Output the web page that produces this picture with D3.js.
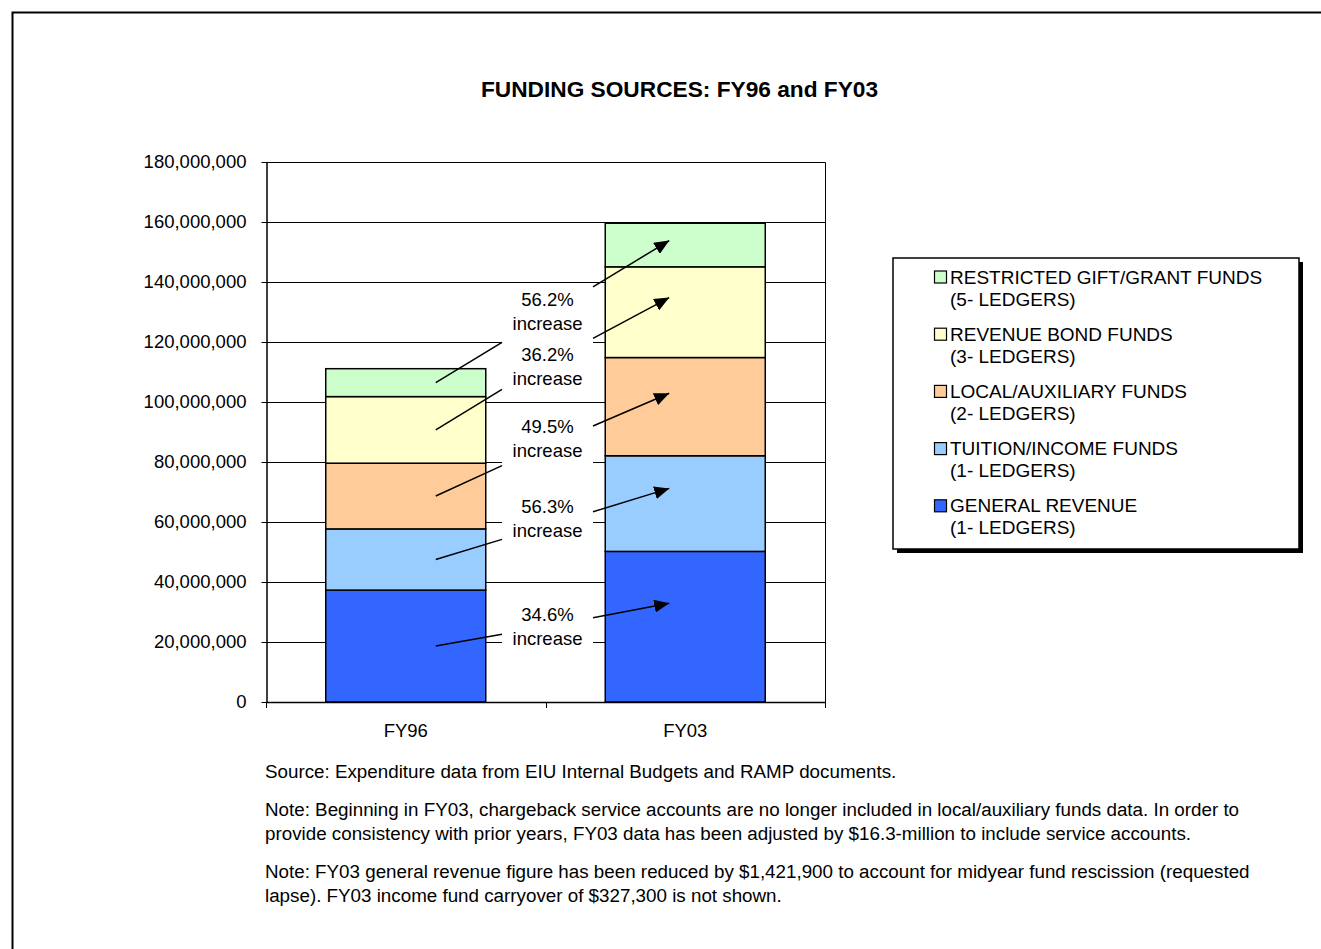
<!DOCTYPE html>
<html>
<head>
<meta charset="utf-8">
<script src="https://cdn.jsdelivr.net/npm/d3@7"></script>
<style>
  html, body { margin: 0; padding: 0; background: #fff; }
  svg { display: block; font-family: "Liberation Sans", Arial, sans-serif; }
</style>
</head>
<body>
<svg id="chart" width="1321" height="949"></svg>
<script>
// Funding sources by fiscal year (dollars)
const categories = ["FY96", "FY03"];
const generalRevenue = [37300000, 50200000];
const tuitionIncome = [20400000, 31880000];
const localAuxiliary = [21900000, 32740000];
const revenueBond = [22200000, 30240000];
const restrictedGift = [9300000, 14530000];

const seriesNames = [
  ["GENERAL REVENUE", "(1- LEDGERS)"],
  ["TUITION/INCOME FUNDS", "(1- LEDGERS)"],
  ["LOCAL/AUXILIARY FUNDS", "(2- LEDGERS)"],
  ["REVENUE BOND FUNDS", "(3- LEDGERS)"],
  ["RESTRICTED GIFT/GRANT FUNDS", "(5- LEDGERS)"]
];
const seriesValues = [generalRevenue, tuitionIncome, localAuxiliary, revenueBond, restrictedGift];
const seriesColors = ["#3366FF", "#99CCFF", "#FFCC99", "#FFFFCC", "#CCFFCC"];

const yTicks = [0, 20000000, 40000000, 60000000, 80000000, 100000000, 120000000, 140000000, 160000000, 180000000];

// Callout placement in value units (label centre, line ends, arrow tip), per series
const calloutLabelAt = [25.2e6, 61.2e6, 87.7e6, 112.0e6, 130.3e6];
const calloutLeftEnd = [22.6e6, 54.2e6, 78.8e6, 104.2e6, 119.9e6];
const calloutRightStart = [28.1e6, 63.4e6, 92.0e6, 121.2e6, 138.4e6];
const calloutTipAt = [32.9e6, 71.2e6, 102.9e6, 134.8e6, 153.8e6];

const title = "FUNDING SOURCES: FY96 and FY03";
const footnotes = [
  ["Source: Expenditure data from EIU Internal Budgets and RAMP documents."],
  ["Note: Beginning in FY03, chargeback service accounts are no longer included in local/auxiliary funds data. In order to",
   "provide consistency with prior years, FY03 data has been adjusted by $16.3-million to include service accounts."],
  ["Note: FY03 general revenue figure has been reduced by $1,421,900 to account for midyear fund rescission (requested",
   "lapse). FY03 income fund carryover of $327,300 is not shown."]
];

const svg = d3.select("#chart");
const FONT = 18.5;

// Outer frame
svg.append("rect")
  .attr("x", 12.5).attr("y", 12.5).attr("width", 1400).attr("height", 1000)
  .attr("fill", "#fff").attr("stroke", "#000").attr("stroke-width", 2);

// Title
svg.append("text")
  .attr("x", 679.5).attr("y", 89)
  .attr("text-anchor", "middle").attr("dominant-baseline", "central")
  .attr("font-weight", "bold").attr("font-size", 22.7)
  .text(title);

const plot = { left: 266, right: 825, top: 162, bottom: 702 };

const x = d3.scaleBand()
  .domain(categories)
  .range([plot.left, plot.right])
  .paddingInner(0.4275)
  .paddingOuter(0.21375);

const y = d3.scaleLinear()
  .domain([0, 180000000])
  .range([plot.bottom, plot.top]);

// Stack the series
const rows = categories.map((c, i) => {
  const r = { category: c };
  seriesValues.forEach((s, k) => { r["s" + k] = s[i]; });
  return r;
});
const keys = seriesValues.map((s, k) => "s" + k);
const stacked = d3.stack().keys(keys)(rows);

// Gridlines
svg.append("g")
  .selectAll("line")
  .data(yTicks.filter(v => v > 0))
  .join("line")
  .attr("x1", plot.left).attr("x2", plot.right)
  .attr("y1", d => Math.round(y(d)) + 0.5).attr("y2", d => Math.round(y(d)) + 0.5)
  .attr("stroke", "#000").attr("stroke-width", 1);

// Plot-area frame (top and right edges)
svg.append("path")
  .attr("d", `M${plot.left},${plot.top + 0.5}H${plot.right + 0.5}V${plot.bottom}`)
  .attr("fill", "none").attr("stroke", "#000").attr("stroke-width", 1);

// Y axis
const yAxis = svg.append("g")
  .attr("transform", `translate(${plot.left + 0.5},0)`)
  .call(d3.axisLeft(y).tickValues(yTicks).tickFormat(d3.format(",")).tickSize(5).tickPadding(15).tickSizeOuter(0));
yAxis.select(".domain").attr("stroke", "#000").attr("stroke-width", 1.5);
yAxis.selectAll(".tick line").attr("stroke", "#000");
yAxis.selectAll(".tick text")
  .attr("font-family", "Liberation Sans, Arial, sans-serif")
  .attr("font-size", FONT).attr("fill", "#000");

// Bars
svg.append("g")
  .selectAll("g")
  .data(stacked)
  .join("g")
  .attr("fill", (d, k) => seriesColors[k])
  .selectAll("rect")
  .data(d => d)
  .join("rect")
  .attr("x", d => x(d.data.category))
  .attr("width", x.bandwidth())
  .attr("y", d => y(d[1]))
  .attr("height", d => y(d[0]) - y(d[1]))
  .attr("stroke", "#000").attr("stroke-width", 1.5);

// X axis baseline and category boundaries
const step = x.step();
const boundaries = [plot.left].concat(categories.map(c => x(c) + x.bandwidth() + step * x.paddingInner() / 2));
boundaries[boundaries.length - 1] = plot.right;
svg.append("line")
  .attr("x1", plot.left).attr("x2", plot.right + 1)
  .attr("y1", plot.bottom + 0.5).attr("y2", plot.bottom + 0.5)
  .attr("stroke", "#000").attr("stroke-width", 1.5);
svg.append("g").selectAll("line")
  .data(boundaries)
  .join("line")
  .attr("x1", d => Math.round(d) + 0.5).attr("x2", d => Math.round(d) + 0.5)
  .attr("y1", plot.bottom).attr("y2", plot.bottom + 6)
  .attr("stroke", "#000");
svg.append("g").selectAll("text")
  .data(categories)
  .join("text")
  .attr("x", d => x(d) + x.bandwidth() / 2)
  .attr("y", plot.bottom + 28)
  .attr("text-anchor", "middle").attr("dominant-baseline", "central")
  .attr("font-size", FONT)
  .text(d => d);

// Callouts: percentage change between the two years for each source
const defs = svg.append("defs");
defs.append("marker")
  .attr("id", "arrowhead")
  .attr("viewBox", "0 0 10 10")
  .attr("refX", 10).attr("refY", 5)
  .attr("markerWidth", 15).attr("markerHeight", 13)
  .attr("markerUnits", "userSpaceOnUse")
  .attr("preserveAspectRatio", "none")
  .attr("orient", "auto")
  .append("path")
  .attr("d", "M0,0L10,5L0,10Z")
  .attr("fill", "#000");

const midX = (x(categories[0]) + x.bandwidth() + x(categories[1])) / 2 + 2;
const boxHalfW = 45.5;
const leftX = x(categories[0]) + x.bandwidth() / 2 + 30;
const tipX = x(categories[1]) + x.bandwidth() / 2 - 16;

const callouts = seriesValues.map((s, k) => {
  const before = stacked[k][0];
  return {
    pct: ((s[1] / s[0] - 1) * 100).toFixed(1) + "%",
    label: calloutLabelAt[k],
    segMid: (before[0] + before[1]) / 2,
    leftEnd: calloutLeftEnd[k],
    rightStart: calloutRightStart[k],
    tip: calloutTipAt[k]
  };
});

const cg = svg.append("g");
cg.selectAll("rect")
  .data(callouts)
  .join("rect")
  .attr("x", midX - boxHalfW)
  .attr("width", boxHalfW * 2)
  .attr("y", d => y(d.label) - 25)
  .attr("height", 50)
  .attr("fill", "#fff");

cg.selectAll("line.left")
  .data(callouts)
  .join("line")
  .attr("class", "left")
  .attr("x1", leftX).attr("y1", d => y(d.segMid))
  .attr("x2", midX - boxHalfW).attr("y2", d => y(d.leftEnd))
  .attr("stroke", "#000").attr("stroke-width", 1.5);

cg.selectAll("line.right")
  .data(callouts)
  .join("line")
  .attr("class", "right")
  .attr("x1", midX + boxHalfW).attr("y1", d => y(d.rightStart))
  .attr("x2", tipX).attr("y2", d => y(d.tip))
  .attr("stroke", "#000").attr("stroke-width", 1.5)
  .attr("marker-end", "url(#arrowhead)");

const ct = cg.selectAll("text")
  .data(callouts)
  .join("text")
  .attr("text-anchor", "middle")
  .attr("font-size", FONT);
ct.append("tspan")
  .attr("x", midX).attr("y", d => y(d.label) - 12)
  .attr("dominant-baseline", "central")
  .text(d => d.pct);
ct.append("tspan")
  .attr("x", midX).attr("y", d => y(d.label) + 12)
  .attr("dominant-baseline", "central")
  .text("increase");

// Legend
const legend = { x: 893, y: 258, w: 406, h: 291 };
svg.append("rect")
  .attr("x", legend.x + 4).attr("y", legend.y + 4)
  .attr("width", legend.w).attr("height", legend.h)
  .attr("fill", "#000");
svg.append("rect")
  .attr("x", legend.x).attr("y", legend.y)
  .attr("width", legend.w).attr("height", legend.h)
  .attr("fill", "#fff").attr("stroke", "#000").attr("stroke-width", 1.5);

const legendOrder = d3.range(seriesValues.length).reverse();
const li = svg.append("g").selectAll("g")
  .data(legendOrder)
  .join("g")
  .attr("transform", (k, i) => `translate(${legend.x + 41},${277 + i * 57.2})`);
li.append("rect")
  .attr("x", 0.5).attr("y", -6)
  .attr("width", 12).attr("height", 12)
  .attr("fill", k => seriesColors[k])
  .attr("stroke", "#000").attr("stroke-width", 1.2);
li.append("text")
  .attr("x", 16).attr("y", 0)
  .attr("dominant-baseline", "central")
  .attr("font-size", 19)
  .text(k => seriesNames[k][0]);
li.append("text")
  .attr("x", 16).attr("y", 22)
  .attr("dominant-baseline", "central")
  .attr("font-size", 19)
  .text(k => seriesNames[k][1]);

// Footnotes
let fy = 771;
const fg = svg.append("g");
footnotes.forEach((para, p) => {
  if (p > 0) fy += 14;
  para.forEach(line => {
    fg.append("text")
      .attr("x", 265).attr("y", fy)
      .attr("dominant-baseline", "central")
      .attr("font-size", 18.8)
      .text(line);
    fy += 24;
  });
});
</script>
</body>
</html>
